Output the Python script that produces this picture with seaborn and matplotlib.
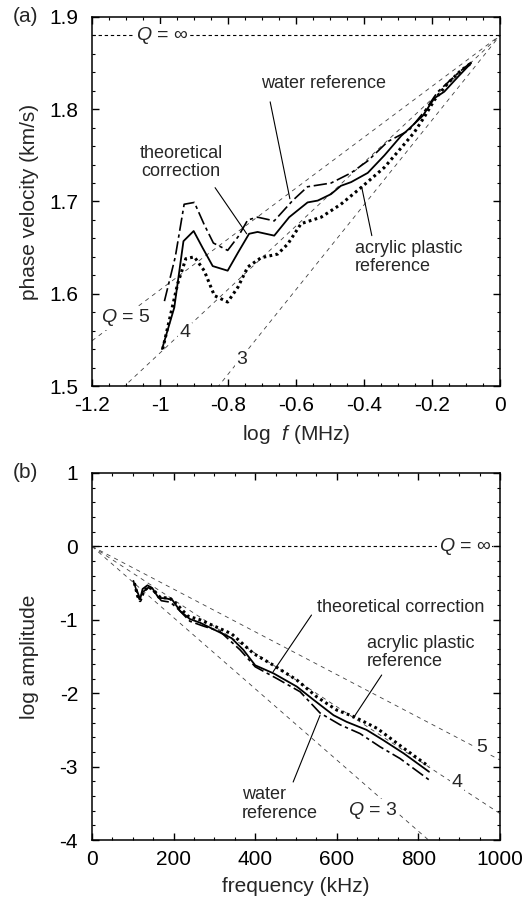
import numpy as np
import pandas as pd
import seaborn as sns
import matplotlib
matplotlib.use("Agg")
import matplotlib.pyplot as plt
from matplotlib.ticker import MultipleLocator, FuncFormatter

# ---------------- data: panel (a) phase velocity ----------------
a_theory_x = [-0.994, -0.958, -0.931, -0.901, -0.875, -0.845, -0.801, -0.770, -0.738, -0.713,
              -0.664, -0.620, -0.566, -0.536, -0.497, -0.468, -0.438, -0.389, -0.340, -0.291,
              -0.267, -0.227, -0.193, -0.164, -0.124, -0.085]
a_theory_y = [1.540, 1.585, 1.657, 1.668, 1.650, 1.630, 1.625, 1.645, 1.665, 1.667,
              1.663, 1.683, 1.699, 1.701, 1.708, 1.717, 1.721, 1.731, 1.750, 1.771,
              1.779, 1.793, 1.812, 1.819, 1.835, 1.850]
a_water_x = [-0.987, -0.955, -0.929, -0.899, -0.870, -0.843, -0.801, -0.770, -0.742, -0.713,
             -0.664, -0.610, -0.566, -0.497, -0.438, -0.389, -0.330, -0.268, -0.224, -0.183,
             -0.124, -0.085]
a_water_y = [1.592, 1.640, 1.697, 1.699, 1.675, 1.655, 1.647, 1.662, 1.680, 1.683,
             1.679, 1.701, 1.716, 1.720, 1.731, 1.744, 1.765, 1.777, 1.797, 1.819,
             1.839, 1.851]
a_acryl_x = [-0.992, -0.948, -0.924, -0.899, -0.870, -0.840, -0.801, -0.771, -0.742, -0.703,
             -0.654, -0.624, -0.585, -0.526, -0.468, -0.409, -0.340, -0.291, -0.252, -0.222,
             -0.193, -0.154, -0.115, -0.085]
a_acryl_y = [1.540, 1.611, 1.638, 1.640, 1.625, 1.598, 1.591, 1.607, 1.629, 1.639,
             1.643, 1.654, 1.676, 1.683, 1.697, 1.715, 1.737, 1.758, 1.775, 1.792,
             1.810, 1.828, 1.842, 1.850]

# Q reference lines (a): value at log f = -1.2, all meet at (0, 1.88)
a_q_labels = ["5", "4", "3"]
a_q_left = [1.549, 1.467, 1.329]
a_v0 = 1.88

# ---------------- data: panel (b) log amplitude ----------------
b_theory_x = [110, 118, 124, 136, 148, 163, 183, 197, 216, 240, 265, 342, 371, 400, 445,
              502, 543, 592, 624, 673, 714, 764, 826]
b_theory_y = [-0.60, -0.72, -0.58, -0.53, -0.57, -0.70, -0.71, -0.73, -0.88, -0.99, -1.04,
              -1.25, -1.41, -1.62, -1.73, -1.91, -2.09, -2.30, -2.39, -2.50, -2.64, -2.82, -3.07]
b_acryl_x = [104, 112, 118, 128, 140, 155, 168, 190, 210, 235, 265, 342, 396, 445, 502,
             551, 600, 642, 699, 764, 826]
b_acryl_y = [-0.50, -0.68, -0.74, -0.60, -0.55, -0.62, -0.70, -0.70, -0.80, -0.95, -1.00,
             -1.19, -1.46, -1.62, -1.82, -2.05, -2.23, -2.32, -2.48, -2.75, -3.00]
b_water_x = [101, 110, 116, 125, 138, 152, 170, 192, 212, 240, 270, 314, 363, 400, 453,
             510, 559, 608, 657, 706, 755, 826]
b_water_y = [-0.46, -0.62, -0.72, -0.62, -0.56, -0.62, -0.74, -0.76, -0.86, -1.02, -1.08,
             -1.16, -1.41, -1.64, -1.80, -1.98, -2.27, -2.43, -2.55, -2.73, -2.89, -3.18]

# Q reference lines (b): value at 1000 kHz, all start at (0, 0)
b_q_labels = ["5", "4", "3"]
b_q_right = [-2.91, -3.64, -4.85]

# ---------------- style ----------------
sns.set_theme(style="ticks")
plt.rcParams["font.family"] = ["Liberation Sans", "DejaVu Sans"]
plt.rcParams["mathtext.fontset"] = "custom"
plt.rcParams["mathtext.rm"] = "Liberation Sans"
plt.rcParams["mathtext.it"] = "Liberation Sans:italic"
plt.rcParams["axes.unicode_minus"] = False

FS = 15      # ticks / axis labels
FA = 13      # annotations
FQ = 14      # Q labels
fig = plt.figure(figsize=(5.27, 9.05), dpi=100)
W, H = 527, 905
L, R = 92 / W, 500 / W
axA = fig.add_axes([L, 1 - 386 / H, R - L, (386 - 17) / H])
axB = fig.add_axes([L, 1 - 840 / H, R - L, (840 - 473) / H])

water_ls = (0, (8, 2.2, 2, 2.2))
acryl_ls = (0, (0.9, 1.1))
qls = (0, (5, 5))
fmt = FuncFormatter(lambda v, p: "%g" % round(v, 3))
white = dict(facecolor="white", edgecolor="none", pad=1.0)


def style_axes(ax):
    for s in ax.spines.values():
        s.set_linewidth(1.1)
        s.set_color("black")
    ax.tick_params(which="both", direction="in", top=True, right=True,
                   colors="black", labelsize=FS)
    ax.tick_params(axis="x", pad=7)
    ax.tick_params(axis="y", pad=10)
    ax.tick_params(which="major", length=5, width=1)
    ax.tick_params(which="minor", length=2.5, width=0.8)
    ax.xaxis.set_major_formatter(fmt)
    ax.yaxis.set_major_formatter(fmt)
    ax.yaxis.set_label_coords(-0.13, 0.5)


# ---------------- panel (a) ----------------
ax = axA
ax.plot([-1.2, 0], [a_v0, a_v0], color="black", lw=0.8, linestyle=(0, (3, 2.5)), zorder=1)
for lab, v in zip(a_q_labels, a_q_left):
    ax.plot([-1.2, 0], [v, a_v0], color="0.25", lw=0.6, linestyle=qls, zorder=1)
sns.lineplot(x=a_water_x, y=a_water_y, ax=ax, color="black", lw=1.2,
             linestyle=water_ls, sort=False, estimator=None)
sns.lineplot(x=a_theory_x, y=a_theory_y, ax=ax, color="black", lw=1.3,
             sort=False, estimator=None)
sns.lineplot(x=a_acryl_x, y=a_acryl_y, ax=ax, color="black", lw=2.2,
             linestyle=acryl_ls, sort=False, estimator=None)
ax.set_xlim(-1.2, 0)
ax.set_ylim(1.5, 1.9)
ax.set_xticks([-1.2, -1.0, -0.8, -0.6, -0.4, -0.2, 0])
ax.set_yticks([1.5, 1.6, 1.7, 1.8, 1.9])
ax.xaxis.set_minor_locator(MultipleLocator(0.05))
ax.yaxis.set_minor_locator(MultipleLocator(0.02))
style_axes(ax)
ax.set_xlabel(r"log  $f$ (MHz)", fontsize=FS, labelpad=6)
ax.set_ylabel("phase velocity (km/s)", fontsize=FS)

ax.text(-0.994, 1.880, r"$Q$ = ∞", fontsize=FQ, ha="center", va="center", bbox=white, zorder=3)
ax.text(-1.10, 1.574, r"$Q$ = 5", fontsize=FQ, ha="center", va="center", bbox=white, zorder=3)
ax.text(-0.926, 1.558, "4", fontsize=FQ, ha="center", va="center", bbox=white, zorder=3)
ax.text(-0.759, 1.529, "3", fontsize=FQ, ha="center", va="center", bbox=white, zorder=3)

ax.text(-0.518, 1.828, "water reference", fontsize=FA, ha="center", va="center")
ax.plot([-0.676, -0.618], [1.808, 1.703], color="black", lw=0.8)
ax.text(-0.938, 1.742, "theoretical\ncorrection", fontsize=FA, ha="center", va="center",
        linespacing=1.1)
ax.plot([-0.838, -0.745], [1.715, 1.665], color="black", lw=0.8)
ax.text(-0.426, 1.639, "acrylic plastic\nreference", fontsize=FA, ha="left", va="center",
        linespacing=1.1)
ax.plot([-0.377, -0.407], [1.663, 1.716], color="black", lw=0.8)

# ---------------- panel (b) ----------------
ax = axB
ax.plot([0, 1000], [0, 0], color="black", lw=0.8, linestyle=(0, (3, 2.5)), zorder=1)
for lab, v in zip(b_q_labels, b_q_right):
    ax.plot([0, 1000], [0, v], color="0.25", lw=0.6, linestyle=qls, zorder=1)
sns.lineplot(x=b_water_x, y=b_water_y, ax=ax, color="black", lw=1.2,
             linestyle=water_ls, sort=False, estimator=None)
sns.lineplot(x=b_theory_x, y=b_theory_y, ax=ax, color="black", lw=1.3,
             sort=False, estimator=None)
sns.lineplot(x=b_acryl_x, y=b_acryl_y, ax=ax, color="black", lw=2.2,
             linestyle=acryl_ls, sort=False, estimator=None)
ax.set_xlim(0, 1000)
ax.set_ylim(-4, 1)
ax.set_xticks([0, 200, 400, 600, 800, 1000])
ax.set_yticks([-4, -3, -2, -1, 0, 1])
ax.xaxis.set_minor_locator(MultipleLocator(50))
ax.yaxis.set_minor_locator(MultipleLocator(0.2))
style_axes(ax)
ax.set_xlabel("frequency (kHz)", fontsize=FS, labelpad=6)
ax.set_ylabel("log amplitude", fontsize=FS)

ax.text(914, 0, r"$Q$ = ∞", fontsize=FQ, ha="center", va="center", bbox=white, zorder=3)
ax.text(956, -2.74, "5", fontsize=FQ, ha="center", va="center", bbox=white, zorder=3)
ax.text(895, -3.22, "4", fontsize=FQ, ha="center", va="center", bbox=white, zorder=3)
ax.text(689, -3.60, r"$Q$ = 3", fontsize=FQ, ha="center", va="center", bbox=white, zorder=3)

ax.text(757, -0.826, "theoretical correction", fontsize=FA, ha="center", va="center")
ax.plot([538, 444], [-0.935, -1.707], color="black", lw=0.8)
ax.text(674, -1.445, "acrylic plastic\nreference", fontsize=FA, ha="left", va="center",
        linespacing=1.1)
ax.plot([710, 640], [-1.752, -2.342], color="black", lw=0.8)
ax.text(368, -3.51, "water\nreference", fontsize=FA, ha="left", va="center", linespacing=1.1)
ax.plot([493, 559], [-3.21, -2.30], color="black", lw=0.8)

fig.text(13 / W, 1 - 17 / H, "(a)", fontsize=FS, ha="left", va="center")
fig.text(13 / W, 1 - 473 / H, "(b)", fontsize=FS, ha="left", va="center")

fig.savefig("out.png", dpi=100)
